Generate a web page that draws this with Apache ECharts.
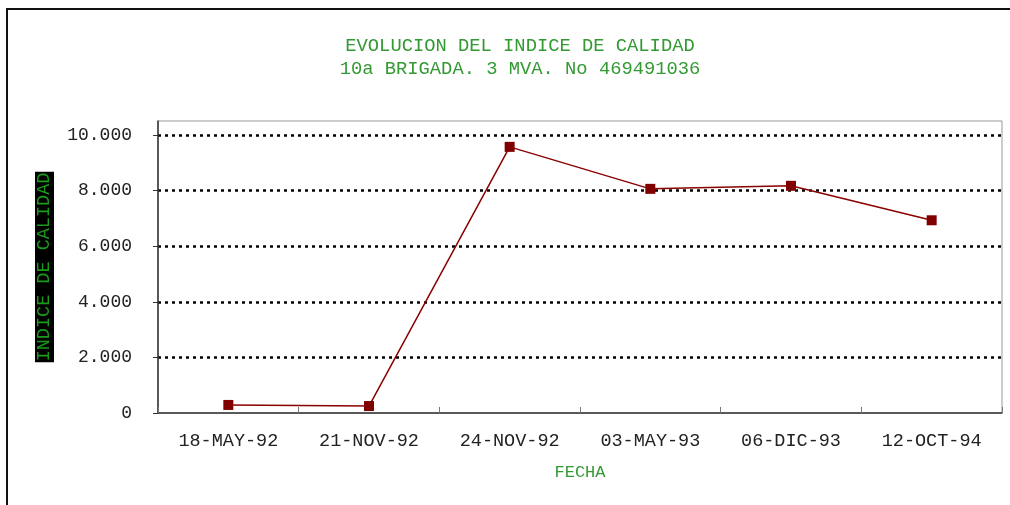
<!DOCTYPE html>
<html>
<head>
<meta charset="utf-8">
<script src="https://cdn.jsdelivr.net/npm/echarts@6/dist/echarts.min.js"></script>
<style>
  html, body { margin: 0; padding: 0; background: #fff; }
  #chart { width: 1010px; height: 505px; }
</style>
</head>
<body>
<div id="chart"></div>
<script>
var fechas = ["18-MAY-92", "21-NOV-92", "24-NOV-92", "03-MAY-93", "06-DIC-93", "12-OCT-94"];
var indice = [290, 250, 9570, 8060, 8170, 6930];
var yTicks = [0, 2000, 4000, 6000, 8000, 10000];

var mono = "Liberation Mono";
var green = "#339933";

function yFormatter(value) {
    return String(value).replace(/\B(?=(\d{3})+(?!\d))/g, ".");
}

var chart = echarts.init(document.getElementById("chart"));
chart.setOption({
    animation: false,
    title: {
        text: "EVOLUCION DEL INDICE DE CALIDAD\n10a BRIGADA. 3 MVA. No 469491036",
        left: 515,
        top: 30,
        textAlign: "center",
        textStyle: {
            fontFamily: mono,
            fontWeight: "normal",
            fontSize: 18.8,
            lineHeight: 23,
            color: green,
        },
    },
    grid: {
        left: 158,
        right: 8,
        top: 121,
        bottom: 92,
        show: true,
        borderColor: "#999",
        borderWidth: 1,
    },
    xAxis: {
        type: "category",
        data: fechas,
        name: "FECHA",
        nameLocation: "middle",
        nameGap: 51,
        nameTextStyle: { fontFamily: mono, fontSize: 17, color: green },
        axisLine: { lineStyle: { color: "#333", width: 1.5 } },
        axisTick: { show: true, inside: true, length: 6, lineStyle: { color: "#777" } },
        axisLabel: { fontFamily: mono, fontSize: 18.5, color: "#222", margin: 19 },
    },
    yAxis: {
        type: "value",
        min: 0,
        max: 10500,
        interval: 2000,
        name: "INDICE DE CALIDAD",
        nameLocation: "middle",
        nameGap: 104,
        nameTextStyle: {
            fontFamily: mono,
            fontSize: 18.5,
            color: "#1a9a1a",
            backgroundColor: "#000",
            padding: [0, 1, 0, 1],
        },
        axisLine: { show: true, lineStyle: { color: "#333", width: 1.5 } },
        axisTick: { show: true, length: 5, customValues: yTicks, lineStyle: { color: "#333" } },
        axisLabel: {
            fontFamily: mono,
            fontSize: 18,
            color: "#222",
            margin: 26,
            customValues: yTicks,
            formatter: yFormatter,
        },
        splitLine: {
            show: true,
            showMinLine: false,
            showMaxLine: true,
            lineStyle: { color: "#000", width: 2.5, type: [3, 4] },
        },
    },
    series: [
        {
            type: "line",
            data: indice,
            symbol: "rect",
            symbolSize: 10,
            itemStyle: { color: "#800000" },
            lineStyle: { color: "#8b0000", width: 1.5 },
        },
    ],
    graphic: [
        {
            type: "polyline",
            shape: { points: [[7, 505], [7, 9], [1010, 9]] },
            style: { stroke: "#111", lineWidth: 2, fill: null },
        },
    ],
});
</script>
</body>
</html>
